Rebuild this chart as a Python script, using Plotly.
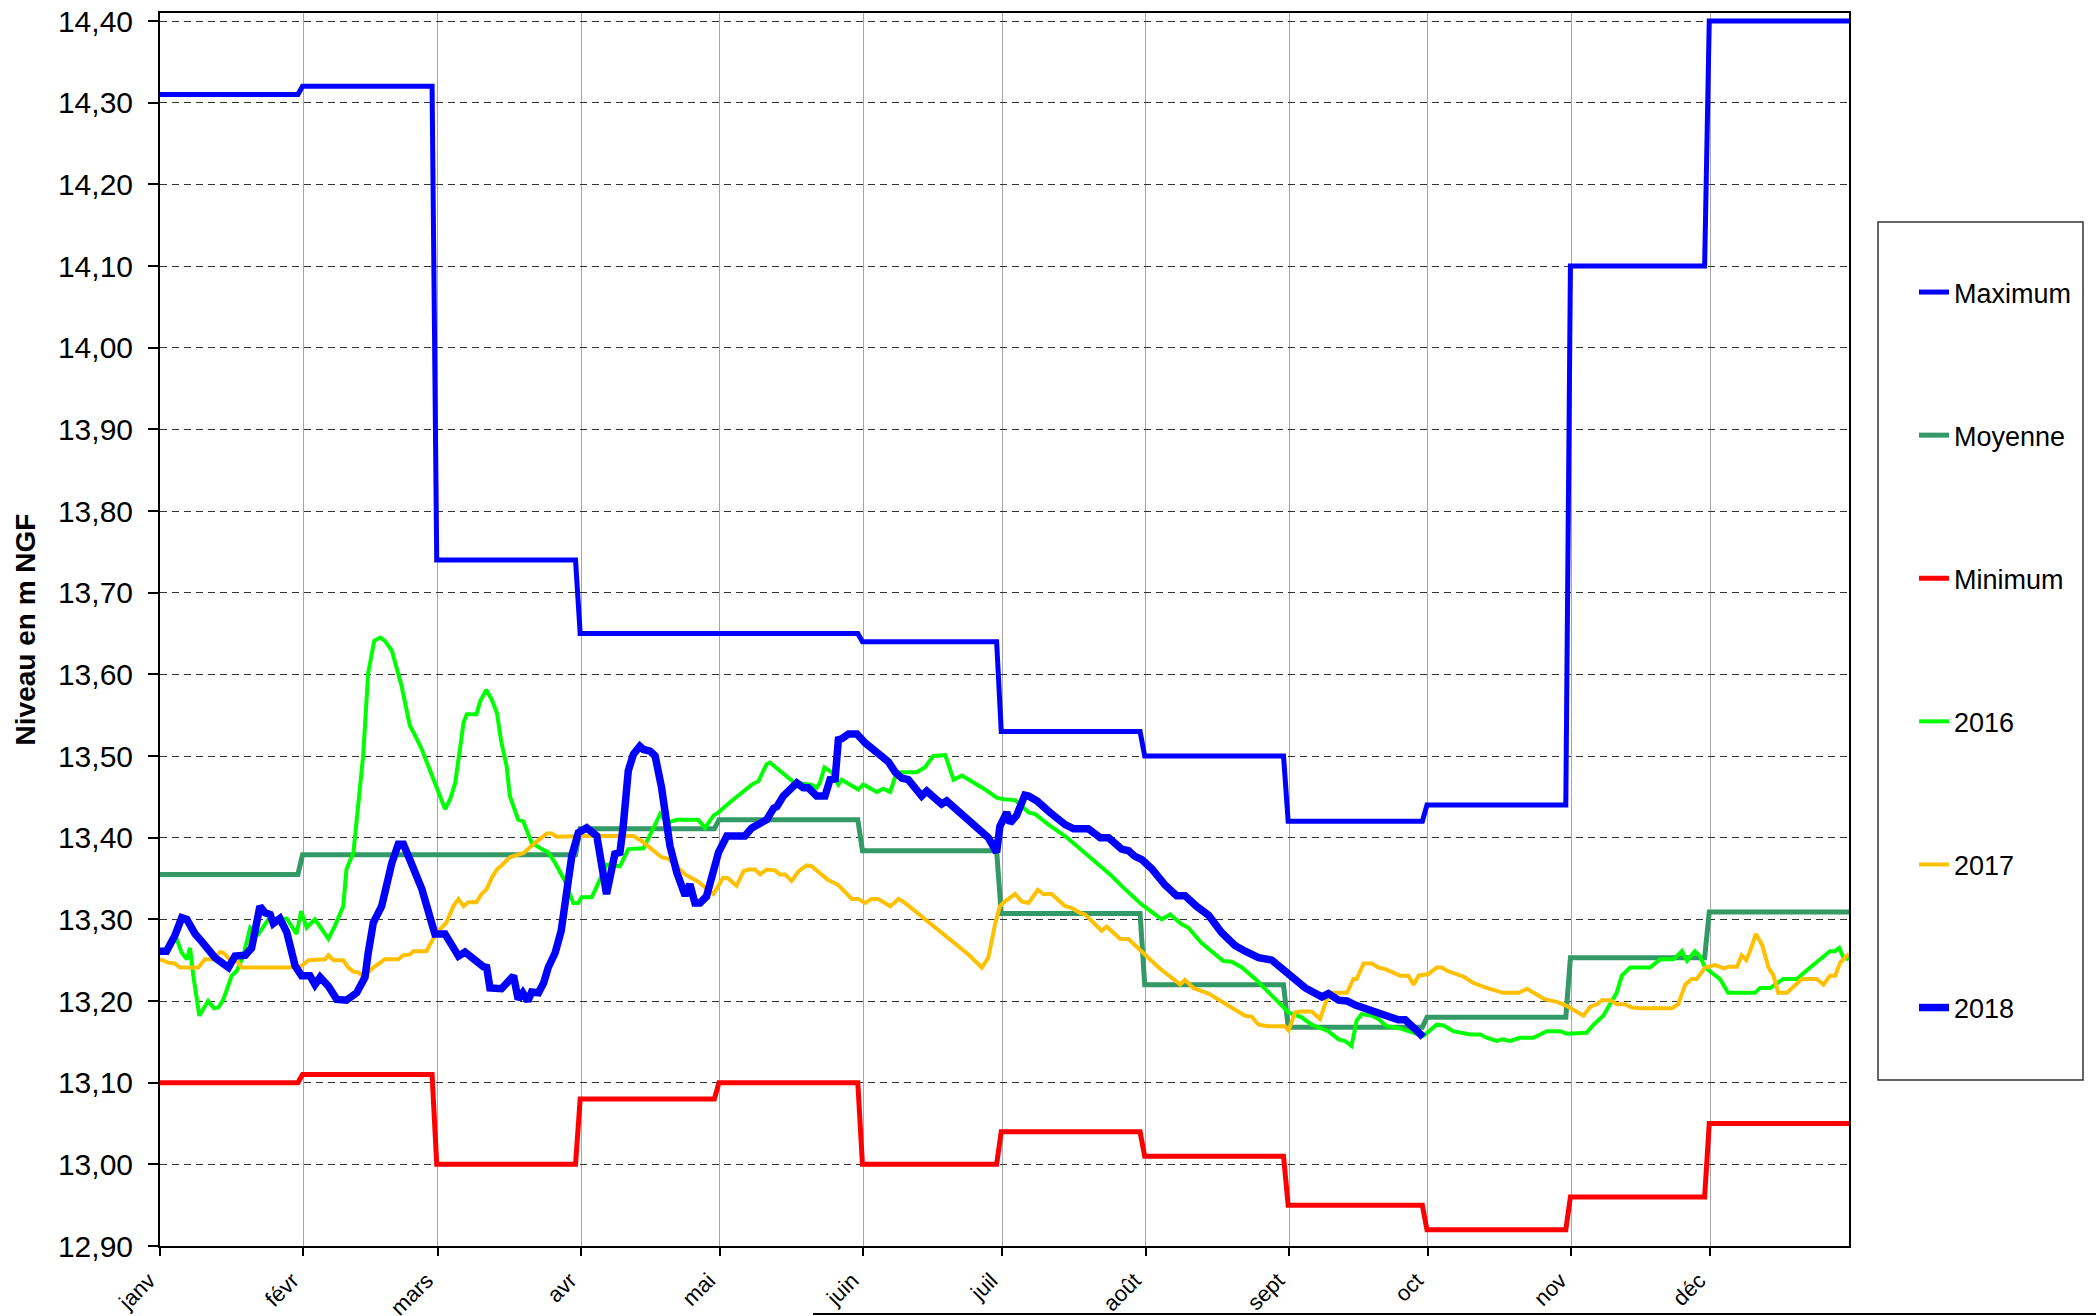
import pandas as pd
import plotly.graph_objects as go

# ---------------- data ----------------
year_start = "2016-01-01"
month_start_days = [0, 31, 60, 91, 121, 152, 182, 213, 244, 274, 305, 335]
year_end_day = 365
month_labels = ["janv", "févr", "mars", "avr", "mai", "juin",
                "juil", "août", "sept", "oct", "nov", "déc"]

max_vals = [14.31, 14.32, 13.74, 13.65, 13.65, 13.64, 13.53, 13.50, 13.42, 13.44, 14.10, 14.40]
moy_vals = [13.355, 13.379, 13.379, 13.411, 13.422, 13.384, 13.307, 13.220, 13.168, 13.180, 13.253, 13.309]
min_vals = [13.10, 13.11, 13.00, 13.08, 13.10, 13.00, 13.04, 13.01, 12.95, 12.92, 12.96, 13.05]

days_2016 = [0, 3.6, 4.7, 5.8, 6.5, 7.2, 8.5, 10.4, 11.7, 12.6, 13.7, 15.5, 16.6, 18.0, 19.5, 21.3, 23.4, 27.4,
             29.5, 30.5, 31.7, 33.5, 36.4, 37.8, 39.6, 40.3, 41.8, 43.9, 45.0, 46.3, 47.6, 48.6, 50.1, 52.2,
             54.0, 54.8, 56.6, 58.0, 59.4, 61.6, 62.7, 63.8, 64.8, 65.6, 66.3, 68.4, 69.2, 70.5, 71.7, 72.8,
             73.8, 74.9, 75.6, 76.7, 77.4, 78.5, 80.3, 82.5, 83.9, 85.4, 87.5, 89.3, 90.4, 91.1, 93.3, 95.1,
             96.5, 99.4, 101.2, 104.5, 106.6, 108.1, 109.5, 111.7, 116.3, 117.8, 119.6, 120.7, 123.5, 127.9,
             129.3, 131.1, 131.8, 135.1, 137.2, 140.8, 141.9, 142.6, 143.6, 145.2, 146.6, 147.3, 149.1, 150.9,
             152.0, 154.9, 156.3, 157.8, 159.2, 163.5, 165.3, 167.1, 169.7, 171.5, 173.3, 176.1, 178.3, 180.8,
             182.3, 184.8, 187.7, 189.1, 192.0, 195.6, 200.6, 205.7, 207.8, 212.2, 216.5, 218.3, 220.8, 222.2,
             225.1, 226.9, 229.8, 231.6, 233.8, 236.7, 243.9, 246.7, 248.9, 252.5, 254.7, 256.1, 257.5, 258.6,
             259.7, 261.9, 263.3, 265.1, 267.6, 269.8, 273.0, 275.9, 277.4, 279.5, 281.7, 283.1, 285.3, 286.7,
             288.9, 290.0, 291.8, 293.9, 296.8, 299.7, 302.6, 304.0, 308.3, 309.8, 311.9, 313.4, 314.8, 315.9,
             317.7, 322.0, 324.2, 327.1, 328.9, 330.0, 331.7, 332.8, 333.9, 335.7, 337.1, 338.9, 341.5, 344.7,
             345.8, 348.0, 350.8, 353.7, 356.6, 358.8, 360.9, 362.0, 362.9, 363.8, 365.0]
vals_2016 = [13.258, 13.276, 13.259, 13.251, 13.265, 13.231, 13.182, 13.200, 13.191, 13.192, 13.202, 13.231,
             13.237, 13.255, 13.290, 13.282, 13.300, 13.301, 13.282, 13.310, 13.290, 13.300, 13.276, 13.292,
             13.316, 13.361, 13.382, 13.500, 13.602, 13.641, 13.645, 13.641, 13.629, 13.586, 13.537, 13.529,
             13.508, 13.488, 13.467, 13.435, 13.447, 13.467, 13.508, 13.541, 13.551, 13.551, 13.567, 13.581,
             13.569, 13.553, 13.516, 13.488, 13.451, 13.431, 13.422, 13.420, 13.394, 13.386, 13.382, 13.369,
             13.347, 13.320, 13.320, 13.327, 13.327, 13.349, 13.367, 13.365, 13.386, 13.387, 13.412, 13.429,
             13.418, 13.422, 13.422, 13.412, 13.427, 13.431, 13.445, 13.465, 13.469, 13.490, 13.492, 13.476,
             13.467, 13.465, 13.461, 13.467, 13.486, 13.480, 13.465, 13.471, 13.465, 13.459, 13.465, 13.456,
             13.460, 13.456, 13.480, 13.480, 13.486, 13.500, 13.501, 13.471, 13.476, 13.467, 13.459, 13.449,
             13.447, 13.446, 13.431, 13.429, 13.416, 13.402, 13.378, 13.353, 13.341, 13.318, 13.300, 13.306,
             13.294, 13.290, 13.271, 13.263, 13.249, 13.248, 13.241, 13.227, 13.186, 13.180, 13.171, 13.163,
             13.153, 13.151, 13.145, 13.176, 13.184, 13.182, 13.178, 13.169, 13.167, 13.163, 13.157, 13.171,
             13.170, 13.163, 13.161, 13.159, 13.159, 13.155, 13.151, 13.153, 13.151, 13.155, 13.155, 13.163,
             13.163, 13.160, 13.161, 13.171, 13.182, 13.196, 13.210, 13.231, 13.241, 13.241, 13.251, 13.251,
             13.261, 13.249, 13.261, 13.255, 13.241, 13.233, 13.227, 13.210, 13.210, 13.210, 13.216, 13.216,
             13.227, 13.227, 13.241, 13.251, 13.261, 13.261, 13.265, 13.253, 13.251]

days_2017 = [0, 1.8, 3.2, 4.3, 8.3, 9.7, 11.5, 13.0, 13.7, 15.1, 16.6, 17.7, 27.7, 30.6, 32.1, 35.7, 36.4, 37.5,
             39.6, 40.7, 41.8, 42.9, 43.9, 46.1, 48.6, 51.5, 52.6, 54.0, 54.8, 57.6, 58.7, 60.2, 61.9, 63.4,
             64.5, 65.6, 66.6, 68.4, 69.5, 70.6, 71.7, 72.8, 73.8, 75.6, 76.7, 78.5, 81.1, 83.6, 84.7, 85.7,
             91.5, 102.3, 104.1, 106.3, 108.4, 109.9, 111.3, 113.5, 116.3, 118.1, 119.6, 121.7, 122.8, 124.6,
             126.1, 127.2, 128.6, 129.7, 131.1, 132.9, 134.0, 135.1, 136.5, 138.0, 139.8, 140.8, 143.0, 144.4,
             146.6, 147.7, 149.5, 150.9, 152.4, 153.8, 155.2, 157.8, 159.6, 161.0, 163.2, 167.5, 171.8, 174.7,
             177.6, 179.0, 180.5, 181.5, 182.6, 184.8, 186.2, 187.7, 189.7, 190.9, 192.7, 195.6, 197.0, 198.8,
             199.9, 203.5, 204.6, 207.5, 209.3, 212.2, 215.8, 220.5, 221.5, 223.3, 226.6, 229.5, 232.3, 234.5,
             235.9, 237.4, 239.5, 243.1, 243.9, 245.3, 246.7, 248.9, 250.7, 252.5, 253.2, 256.5, 257.9, 258.6,
             260.1, 261.9, 263.3, 264.8, 268.0, 269.8, 270.9, 272.0, 274.1, 275.9, 277.0, 278.1, 281.7, 283.8,
             286.7, 290.3, 293.6, 295.4, 299.3, 301.9, 304.0, 307.6, 309.1, 310.5, 311.6, 313.4, 314.8, 316.6,
             318.1, 319.9, 326.7, 328.1, 329.6, 331.0, 332.1, 333.9, 336.1, 338.0, 339.0, 340.8, 341.8, 342.8,
             343.6, 344.9, 346.2, 347.6, 348.7, 349.7, 351.6, 354.8, 358.0, 359.5, 360.9, 362.0, 363.1, 365.0]
vals_2017 = [13.251, 13.247, 13.246, 13.241, 13.241, 13.251, 13.251, 13.260, 13.259, 13.251, 13.249, 13.241,
             13.241, 13.243, 13.250, 13.251, 13.256, 13.250, 13.250, 13.241, 13.236, 13.235, 13.230, 13.241,
             13.251, 13.251, 13.256, 13.257, 13.261, 13.261, 13.273, 13.286, 13.296, 13.316, 13.325, 13.316,
             13.321, 13.321, 13.331, 13.337, 13.351, 13.361, 13.366, 13.376, 13.378, 13.381, 13.394, 13.405,
             13.405, 13.401, 13.402, 13.402, 13.396, 13.386, 13.376, 13.374, 13.367, 13.355, 13.346, 13.337,
             13.331, 13.351, 13.350, 13.341, 13.359, 13.361, 13.361, 13.355, 13.361, 13.360, 13.355, 13.355,
             13.347, 13.359, 13.366, 13.365, 13.355, 13.348, 13.342, 13.335, 13.325, 13.325, 13.320, 13.325,
             13.325, 13.316, 13.325, 13.320, 13.310, 13.290, 13.271, 13.257, 13.241, 13.253, 13.295, 13.316,
             13.322, 13.331, 13.322, 13.320, 13.336, 13.331, 13.331, 13.316, 13.314, 13.308, 13.306, 13.286,
             13.291, 13.276, 13.276, 13.260, 13.241, 13.220, 13.226, 13.216, 13.209, 13.199, 13.190, 13.182,
             13.181, 13.171, 13.169, 13.169, 13.164, 13.186, 13.187, 13.187, 13.178, 13.208, 13.210, 13.210,
             13.227, 13.227, 13.246, 13.246, 13.241, 13.239, 13.231, 13.231, 13.220, 13.231, 13.233, 13.241,
             13.241, 13.237, 13.230, 13.222, 13.216, 13.210, 13.210, 13.215, 13.202, 13.199, 13.194, 13.182,
             13.193, 13.196, 13.201, 13.201, 13.196, 13.196, 13.192, 13.191, 13.191, 13.196, 13.220, 13.227,
             13.227, 13.241, 13.244, 13.240, 13.242, 13.242, 13.256, 13.250, 13.261, 13.282, 13.269, 13.241,
             13.231, 13.210, 13.210, 13.227, 13.227, 13.220, 13.231, 13.231, 13.247, 13.258]

days_2018 = [0, 1.4, 3.2, 4.7, 5.8, 7.6, 9.0, 10.4, 11.9, 14.8, 16.2, 18.4, 19.8, 21.6, 22.7, 23.8, 24.5, 25.9,
             27.4, 29.2, 30.6, 32.4, 33.5, 34.6, 36.4, 38.2, 40.3, 42.5, 44.3, 45.0, 46.1, 47.9, 50.1, 51.5,
             52.6, 54.0, 56.6, 59.4, 61.6, 63.0, 64.5, 65.9, 68.1, 69.9, 70.6, 71.3, 73.8, 76.4, 77.4, 78.4,
             79.5, 80.3, 81.8, 82.9, 83.9, 85.4, 86.7, 87.9, 89.0, 90.4, 92.2, 94.4, 95.5, 96.5, 98.3, 99.4,
             100.1, 101.2, 102.3, 103.7, 104.5, 105.9, 107.0, 108.4, 110.2, 111.7, 113.5, 114.5, 115.6, 116.7,
             118.1, 119.2, 120.7, 122.5, 126.4, 127.9, 129.0, 131.1, 132.6, 133.3, 134.7, 137.6, 139.0, 140.1,
             141.9, 143.7, 144.8, 145.9, 146.6, 147.3, 148.8, 150.6, 152.4, 154.9, 157.4, 158.9, 160.3, 161.7,
             163.2, 164.6, 165.7, 168.9, 170.0, 172.5, 176.1, 179.0, 180.8, 181.5, 183.0, 183.7, 185.1, 186.9,
             187.7, 189.5, 192.3, 195.6, 197.4, 200.6, 203.2, 205.0, 207.8, 209.3, 210.7, 212.2, 214.3, 217.2,
             219.7, 221.5, 224.0, 226.6, 229.4, 232.3, 234.5, 237.4, 240.3, 243.9, 247.5, 251.1, 252.5, 254.7,
             256.5, 258.3, 260.4, 262.6, 265.1, 267.6, 269.1, 270.9, 273.0]
vals_2018 = [13.261, 13.261, 13.280, 13.302, 13.300, 13.282, 13.273, 13.263, 13.253, 13.241, 13.255, 13.256,
             13.265, 13.316, 13.308, 13.306, 13.295, 13.301, 13.284, 13.243, 13.231, 13.231, 13.220, 13.229,
             13.218, 13.202, 13.201, 13.210, 13.229, 13.259, 13.296, 13.316, 13.369, 13.392, 13.392, 13.373,
             13.337, 13.282, 13.282, 13.269, 13.255, 13.260, 13.249, 13.242, 13.241, 13.216, 13.215, 13.231,
             13.202, 13.210, 13.200, 13.211, 13.210, 13.222, 13.241, 13.259, 13.286, 13.341, 13.378, 13.406,
             13.412, 13.402, 13.369, 13.331, 13.380, 13.382, 13.414, 13.482, 13.502, 13.512, 13.508, 13.506,
             13.500, 13.461, 13.390, 13.357, 13.329, 13.343, 13.320, 13.320, 13.328, 13.351, 13.382, 13.402,
             13.402, 13.412, 13.416, 13.422, 13.436, 13.438, 13.451, 13.467, 13.461, 13.461, 13.451, 13.451,
             13.471, 13.472, 13.520, 13.521, 13.527, 13.527, 13.516, 13.505, 13.493, 13.480, 13.473, 13.471,
             13.460, 13.451, 13.457, 13.441, 13.445, 13.433, 13.415, 13.400, 13.382, 13.414, 13.431, 13.418,
             13.427, 13.452, 13.451, 13.445, 13.431, 13.416, 13.411, 13.411, 13.400, 13.400, 13.386, 13.384,
             13.377, 13.373, 13.362, 13.342, 13.329, 13.329, 13.316, 13.305, 13.284, 13.268, 13.261, 13.253,
             13.250, 13.233, 13.216, 13.205, 13.209, 13.201, 13.200, 13.195, 13.191, 13.188, 13.181, 13.177,
             13.177, 13.167, 13.156]


# ---------------- helpers ----------------
def to_dates(days):
    return pd.Timestamp(year_start) + pd.to_timedelta(days, unit="D")


def monthly_steps(values):
    xs, ys = [], []
    for i, v in enumerate(values):
        start = 0 if i == 0 else month_start_days[i] - 0.2
        end = year_end_day if i == len(values) - 1 else month_start_days[i + 1] - 1.2
        xs += [start, end]
        ys += [v, v]
    return to_dates(xs), ys


FONT = "Arial, 'Liberation Sans', Helvetica, sans-serif"

fig = go.Figure()

series = [
    ("Maximum", *monthly_steps(max_vals), "#0000FF", 5),
    ("Moyenne", *monthly_steps(moy_vals), "#339966", 5),
    ("Minimum", *monthly_steps(min_vals), "#FF0000", 5),
    ("2016", to_dates(days_2016), vals_2016, "#00FF00", 4),
    ("2017", to_dates(days_2017), vals_2017, "#FFC000", 4),
    ("2018", to_dates(days_2018), vals_2018, "#0000FF", 7.5),
]
for name, x, y, color, width in series:
    fig.add_trace(go.Scatter(
        x=x, y=y, mode="lines", name=name, legendgroup=name,
        line=dict(color=color, width=width, shape="linear"),
        hoverinfo="x+y+name",
    ))

W, H = 2096, 1316
L, R, T, B = 160, 247, 13, 70
pw, ph = W - L - R, H - T - B


def px_x(x):
    return (x - L) / pw


def px_y(y):
    return (H - B - y) / ph


tickvals = to_dates(month_start_days)

fig.update_layout(
    width=W, height=H,
    margin=dict(l=L, r=R, t=T, b=B, autoexpand=False),
    paper_bgcolor="white", plot_bgcolor="white",
    separators=", ",
    font=dict(family=FONT, color="black"),
    showlegend=True,
    legend=dict(
        x=px_x(1914), y=px_y(268), xanchor="left", yanchor="top",
        font=dict(size=27, family=FONT, color="black"),
        tracegroupgap=105, bgcolor="rgba(0,0,0,0)", borderwidth=0,
        traceorder="grouped",
    ),
    xaxis=dict(
        type="date",
        range=[to_dates([0])[0], to_dates([year_end_day])[0]],
        tickmode="array", tickvals=tickvals, ticktext=month_labels,
        tickangle=-45, tickfont=dict(size=22, family=FONT, color="black"),
        ticklabelshift=-11, ticklabelstandoff=3,
        ticks="outside", ticklen=8, tickcolor="black", tickwidth=1.5,
        showgrid=True, gridcolor="#A6A6A6", gridwidth=1,
        showline=True, linecolor="black", linewidth=2, mirror=True,
        zeroline=False, automargin=False,
    ),
    yaxis=dict(
        range=[12.90, 14.4098],
        tick0=12.90, dtick=0.1, tickformat=".2f",
        tickfont=dict(size=30, family=FONT, color="black"),
        ticklabelstandoff=9,
        ticks="outside", ticklen=10, tickcolor="black", tickwidth=1.5,
        showgrid=True, gridcolor="#333333", gridwidth=1.2, griddash="7px,5px",
        showline=True, linecolor="black", linewidth=2, mirror=True,
        zeroline=False, automargin=False,
        title=dict(text="<b>Niveau en m NGF</b>", font=dict(size=28, family=FONT, color="black"),
                   standoff=14),
    ),
    shapes=[
        dict(type="rect", xref="paper", yref="paper",
             x0=px_x(1878), x1=px_x(2083), y0=px_y(1080), y1=px_y(222),
             line=dict(color="#333333", width=1.5), fillcolor="rgba(0,0,0,0)", layer="below"),
        dict(type="line", xref="paper", yref="paper",
             x0=px_x(813), x1=px_x(2096), y0=px_y(1314), y1=px_y(1314),
             line=dict(color="black", width=2)),
    ],
)

fig.write_html("out.html", include_plotlyjs=True, config={"displayModeBar": False},
               post_script="document.body.style.margin='0';document.body.style.overflow='hidden';")
